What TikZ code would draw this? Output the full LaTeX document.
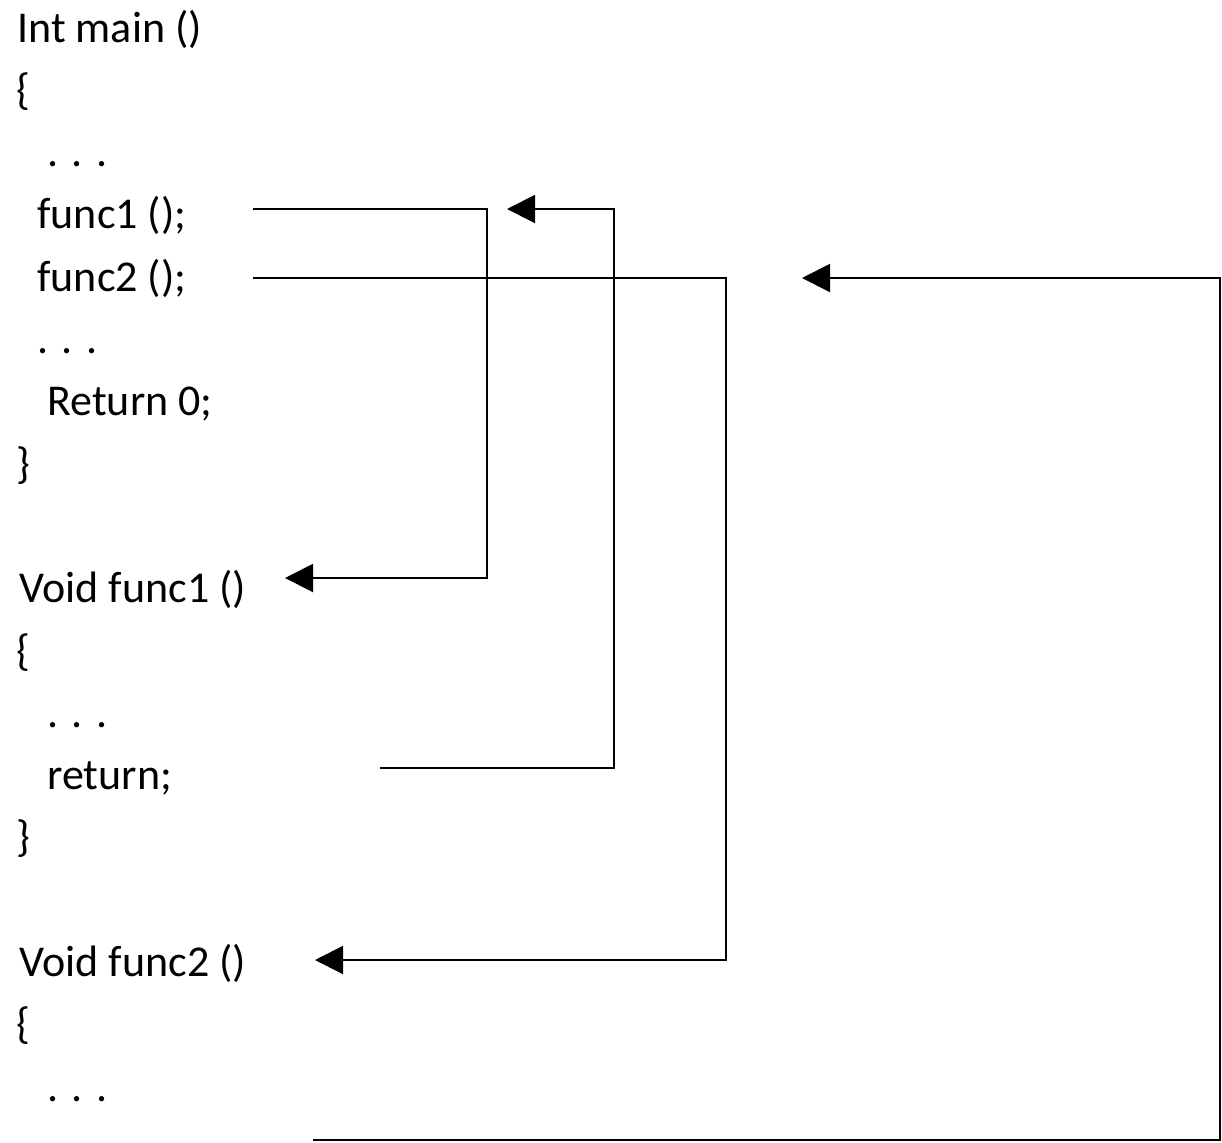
\documentclass[tikz,border=0pt]{standalone}
\usepackage{fontspec}
\setmainfont{Carlito}
\usetikzlibrary{arrows.meta}

\tikzstyle{code}=[anchor=base west,inner sep=0pt,font=\fontsize{22}{26}\selectfont]
\tikzstyle{call} = [draw,line width=1pt,->,>={Triangle[length=14pt,width=14pt]}]

\begin{document}
\begin{tikzpicture}[x=0.5pt,y=-0.5pt]
\useasboundingbox (0,0) rectangle (1222,1142);
\foreach \i/\x/\txt/\name in {0/17/{Int main ()}/main, 1/16/{\{}/mainopen,
                              2/47/{. . .}/maindots, 3/37/{func1 ();}/callone,
                              4/37/{func2 ();}/calltwo, 5/37/{. . .}/mainmore,
                              6/47/{Return 0;}/mainret, 7/16/{\}}/mainclose,
                              9/19/{Void func1 ()}/defone, 10/16/{\{}/oneopen,
                              11/47/{. . .}/onedots, 12/47/{return;}/oneret,
                              13/16/{\}}/oneclose, 15/19/{Void func2 ()}/deftwo,
                              16/16/{\{}/twoopen, 17/47/{. . .}/twodots}{
  \node[code] (\name) at (\x,42+62.3*\i) {\txt};
}
\coordinate (oneout) at (253,209);
\coordinate (onebend) at (487,578);
\coordinate (onein) at (285,578);
\coordinate (oneback) at (380,768);
\coordinate (backbend) at (614,209);
\coordinate (backin) at (507,209);
\coordinate (twoout) at (253,278);
\coordinate (twobend) at (726,960);
\coordinate (twoin) at (315,960);
\coordinate (twoback) at (313,1140);
\coordinate (twobackbend) at (1220,278);
\coordinate (twobackin) at (802,278);
\path[call] (oneout) -| (onebend) -- (onein);
\path[call] (oneback) -| (backbend) -- (backin);
\path[call] (twoout) -| (twobend) -- (twoin);
\path[call] (twoback) -| (twobackbend) -- (twobackin);
\end{tikzpicture}
\end{document}
